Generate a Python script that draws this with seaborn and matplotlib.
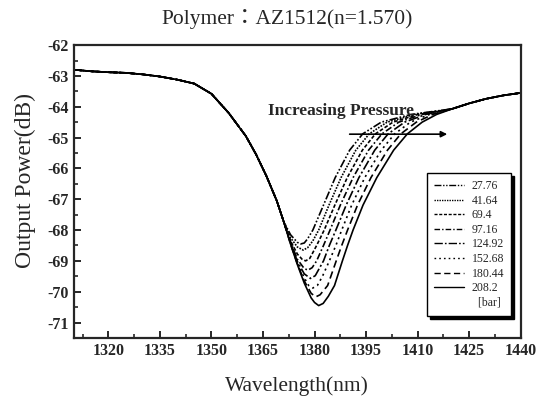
import matplotlib.pyplot as plt
from matplotlib.lines import Line2D
from matplotlib.ticker import MultipleLocator
import seaborn as sns

# Pressure labels [bar] and line styles as in the legend
pressures = ['27.76', '41.64', '69.4', '97.16', '124.92', '152.68', '180.44', '208.2']
dash_styles = [
    (0, (5, 1.2, 1, 1.2, 1, 1.2)),
    (0, (1, 0.8)),
    (0, (2.2, 1.2)),
    (0, (4, 1.5, 1, 1.5)),
    (0, (6, 1.5, 1.2, 1.5)),
    (0, (1.2, 2.2)),
    (0, (4.5, 2.5)),
    '-',
]

# Part shared by all curves (left shoulder) and the common tail
left_wl = [1310, 1315, 1320, 1325, 1330, 1335, 1340, 1345, 1350, 1355, 1360, 1363, 1366, 1369, 1371]
left_db = [-62.80, -62.85, -62.88, -62.90, -62.95, -63.02, -63.12, -63.25, -63.58, -64.20, -64.95,
           -65.55, -66.25, -67.05, -67.72]
tail_wl = [1420, 1425, 1430, 1435, 1440]
tail_db = [-64.07, -63.89, -63.74, -63.63, -63.55]

# Dip region for each pressure
dip_wl = [
    [1373, 1375, 1376, 1377, 1378, 1379.5, 1382.6, 1386.0, 1390.2, 1394.0, 1399.4, 1408.0],
    [1373, 1375, 1376.7, 1378, 1379.5, 1381.2, 1384.2, 1387.7, 1392.0, 1395.9, 1401.1, 1409.1],
    [1373, 1375, 1376.4, 1377.4, 1378.6, 1380.6, 1382.8, 1385.9, 1389.5, 1393.9, 1397.7, 1402.8, 1410.1],
    [1373, 1375, 1377, 1378.1, 1379.3, 1380.6, 1382.6, 1384.5, 1387.5, 1391.2, 1395.7, 1399.6, 1404.5,
     1411.2],
    [1373, 1375, 1377, 1378.8, 1380.2, 1382.6, 1384.3, 1386.2, 1389.2, 1392.9, 1397.5, 1401.4, 1406.2,
     1412.3],
    [1373, 1375, 1377, 1378.3, 1379.5, 1380.8, 1382.3, 1384.3, 1386.2, 1387.9, 1390.8, 1394.6, 1399.4,
     1403.3, 1407.9, 1413.4],
    [1373, 1375, 1377, 1379, 1380.3, 1381.6, 1383.8, 1386.3, 1387.9, 1389.6, 1392.5, 1396.4, 1401.2,
     1405.1, 1409.6, 1414.4],
    [1373, 1375, 1377, 1379, 1380, 1381.2, 1382.5, 1384, 1385.8, 1388.1, 1389.6, 1391.2, 1394.1, 1398.1,
     1403.0, 1407.0, 1411.3, 1415.5],
]
dip_db = [
    [-68.15, -68.40, -68.45, -68.42, -68.28, -68.00, -67.19, -66.30, -65.41, -64.88, -64.50, -64.25],
    [-68.25, -68.55, -68.65, -68.57, -68.35, -68.00, -67.19, -66.30, -65.41, -64.88, -64.50, -64.25],
    [-68.35, -68.78, -68.95, -69.00, -68.92, -68.50, -68.00, -67.19, -66.30, -65.41, -64.88, -64.50, -64.25],
    [-68.38, -68.95, -69.25, -69.30, -69.22, -69.00, -68.50, -68.00, -67.19, -66.30, -65.41, -64.88, -64.50,
     -64.25],
    [-68.40, -69.02, -69.42, -69.57, -69.48, -69.00, -68.50, -68.00, -67.19, -66.30, -65.41, -64.88, -64.50,
     -64.25],
    [-68.42, -69.08, -69.55, -69.80, -69.88, -69.80, -69.50, -69.00, -68.50, -68.00, -67.19, -66.30, -65.41,
     -64.88, -64.50, -64.25],
    [-68.45, -69.10, -69.65, -70.05, -70.17, -70.10, -69.80, -69.00, -68.50, -68.00, -67.19, -66.30, -65.41,
     -64.88, -64.50, -64.25],
    [-68.45, -69.12, -69.72, -70.20, -70.35, -70.45, -70.38, -70.15, -69.80, -69.00, -68.50, -68.00, -67.19,
     -66.30, -65.41, -64.88, -64.50, -64.25],
]

sns.set_style('ticks')
plt.rcParams['font.family'] = ['Liberation Serif', 'Noto Sans CJK KR']
plt.rcParams['axes.unicode_minus'] = False
plt.rcParams['xtick.direction'] = 'in'
plt.rcParams['ytick.direction'] = 'in'

fig = plt.figure(figsize=(5.38, 3.99), dpi=100)
ax = fig.add_axes([0.1375, 0.153, 0.8305, 0.734])

handles = []
for p, ls, dwl, ddb in zip(pressures, dash_styles, dip_wl, dip_db):
    sns.lineplot(x=left_wl + dwl + tail_wl, y=left_db + ddb + tail_db, ax=ax,
                 color='black', lw=1.2, linestyle=ls, estimator=None)
    handles.append(Line2D([], [], color='black', lw=1.0, linestyle=ls))

ax.set_xlim(1310, 1440)
ax.set_ylim(-71.5, -62)
ax.xaxis.set_major_locator(MultipleLocator(15))
ax.xaxis.set_minor_locator(MultipleLocator(7.5))
ax.yaxis.set_major_locator(MultipleLocator(1))
ax.yaxis.set_minor_locator(MultipleLocator(0.5))
ax.set_xticks(range(1320, 1441, 15))
ax.tick_params(which='major', length=5, width=1.4, labelsize=11.5)
ax.tick_params(which='minor', length=3, width=1.2)
ax.tick_params(top=False, right=False)
for lab in ax.get_xticklabels() + ax.get_yticklabels():
    lab.set_fontweight('bold')
for s in ax.spines.values():
    s.set_linewidth(1.6)

ax.set_xlabel('Wavelength(nm)', fontsize=15.5)
ax.set_ylabel('Output Power(dB)', fontsize=17)
ax.xaxis.set_label_coords(0.5, -0.13)
ax.yaxis.set_label_coords(-0.085, 0.539)
fig.text(0.533, 0.953, 'Polymer：AZ1512(n=1.570)', fontsize=15.5, ha='center', va='center')

# Annotation with arrow
ax.text(1387.6, -64.14, 'Increasing Pressure', fontsize=12.5, fontweight='bold',
        ha='center', va='center')
ax.annotate('', xy=(1419.4, -64.89), xytext=(1389.4, -64.89),
            arrowprops=dict(arrowstyle='-|>', color='black', lw=1.2, mutation_scale=9))

# Legend box with heavy shadow
handles.append(Line2D([], [], color='none'))
labels = pressures + ['  [bar]']
leg = ax.legend(handles, labels, loc='upper left', bbox_to_anchor=(427 / 538, 1 - 173 / 399),
                bbox_transform=fig.transFigure, fontsize=8.5, frameon=True, fancybox=False,
                shadow={'color': 'black', 'alpha': 1.0}, edgecolor='black', framealpha=1,
                handlelength=2.5, handletextpad=0.7, labelspacing=0.22, borderpad=0.6,
                borderaxespad=0)
leg.get_frame().set_linewidth(1.0)

fig.savefig('out.png', dpi=100, facecolor='white')
